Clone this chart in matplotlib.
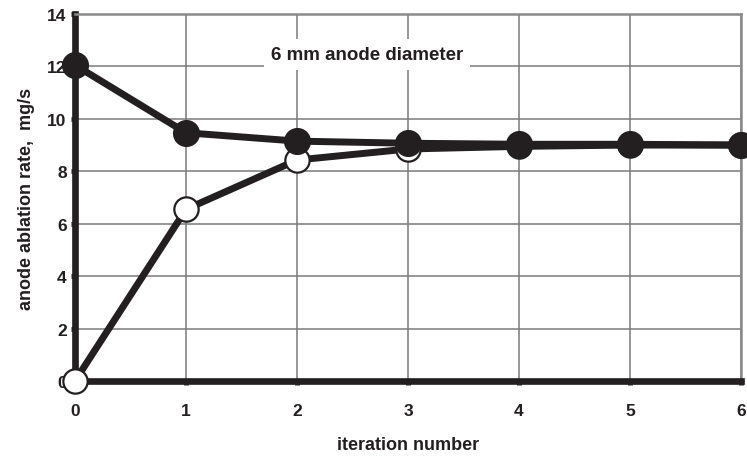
import matplotlib
matplotlib.use("Agg")
import matplotlib.pyplot as plt

iterations = [0, 1, 2, 3, 4, 5, 6]
filled_series = [12.05, 9.47, 9.15, 9.07, 9.03, 9.03, 9.0]
open_series = [0.0, 6.55, 8.43, 8.85, 8.95, 9.0, 9.0]
x_ticks = [0, 1, 2, 3, 4, 5, 6]
y_ticks = [0, 2, 4, 6, 8, 10, 12, 14]

plt.rcParams['font.family'] = ['Liberation Sans', 'DejaVu Sans']
plt.rcParams['font.weight'] = 'bold'

fig = plt.figure(figsize=(7.47, 4.6), dpi=100)
ax = fig.add_axes([0.1004, 0.1696, 0.8916, 0.7978])

ax.set_xlim(0, 6)
ax.set_ylim(0, 14)
ax.set_xticks(x_ticks)
ax.set_yticks(y_ticks)
ax.grid(True, color='#7a7a7a', linewidth=1.1)
ax.set_axisbelow(True)

for s in ['top', 'right']:
    ax.spines[s].set_color('#8a8a8a')
    ax.spines[s].set_linewidth(1.8)
for s in ['left', 'bottom']:
    ax.spines[s].set_color('#231f20')
    ax.spines[s].set_linewidth(4.8)
    ax.spines[s].set_zorder(2.5)

ax.tick_params(axis='both', direction='out', length=3, width=3.5, color='#231f20',
               labelsize=12.5)
ax.tick_params(axis='y', pad=3)
ax.tick_params(axis='x', pad=13)
for lab in ax.get_xticklabels() + ax.get_yticklabels():
    lab.set_fontweight('bold')
    lab.set_color('#231f20')

ax.plot(iterations, open_series, color='#231f20', linewidth=5, marker='o',
        markersize=17.5, markerfacecolor='white', markeredgecolor='#231f20',
        markeredgewidth=1.6, clip_on=False, zorder=3)
ax.plot(iterations, filled_series, color='#231f20', linewidth=5, marker='o',
        markersize=18.5, markerfacecolor='#231f20', markeredgecolor='#231f20',
        clip_on=False, zorder=4)

ax.text(2.63, 12.45, '6 mm anode diameter', fontsize=13.5, fontweight='bold',
        color='#231f20', ha='center', va='center',
        bbox=dict(facecolor='white', edgecolor='none', pad=5), zorder=2.2)

ax.set_xlabel('iteration number', fontsize=13, fontweight='bold', color='#231f20', labelpad=13)
ax.set_ylabel('anode ablation rate,  mg/s', fontsize=13, fontweight='bold', color='#231f20', labelpad=9)

fig.savefig('out.png', dpi=100)
